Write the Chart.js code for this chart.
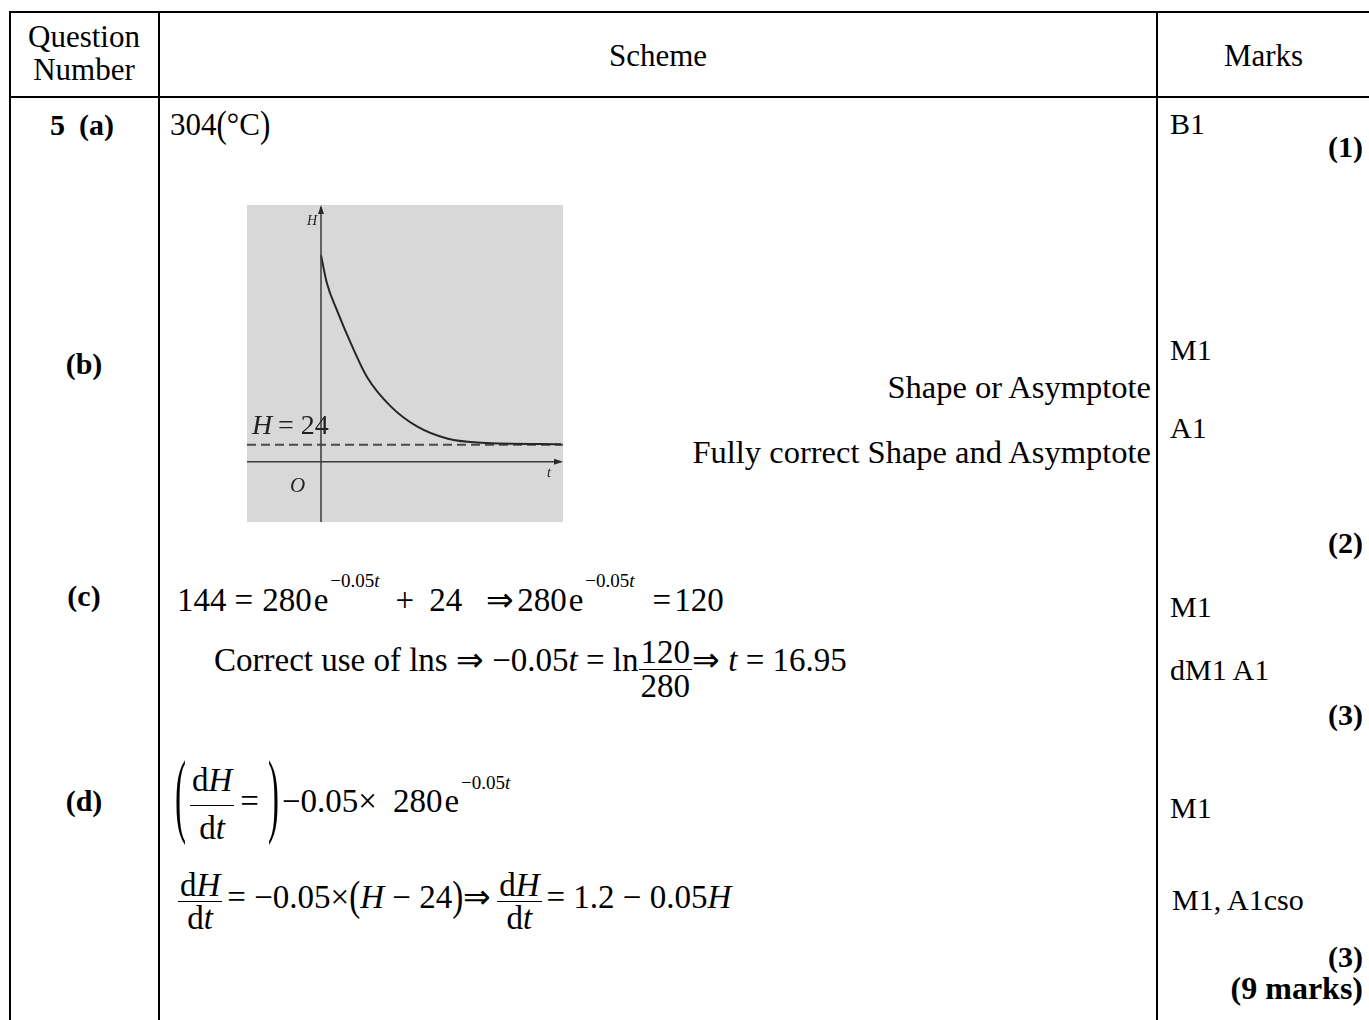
<!DOCTYPE html>
<html>
<head>
<meta charset="utf-8">
<script src="https://cdn.jsdelivr.net/npm/chart.js@4"></script>
<style>
  html, body { margin: 0; padding: 0; background: #fff; }
  #page { position: relative; width: 1369px; height: 1020px; overflow: hidden;
          font-family: "Liberation Serif", "Times New Roman", serif; font-size: 30px; color: #000; }
  .ln { position: absolute; background: #000; }
  .t { position: absolute; line-height: 1; white-space: nowrap; }
  .b { font-weight: bold; }
  .r { text-align: right; }
  .c { text-align: center; }
  .h { font-size: 31px; }
  .eq { font-size: 33px; }
  .sup { position: relative; font-size: 19px; margin-left: 2px; }
  .g { display: inline-block; }
  .pz { display: inline-block; transform-origin: 50% 0.6em; }
  .frac { display: inline-block; position: relative; vertical-align: baseline; }
  .frac .w { visibility: hidden; padding: 0 2px; }
  .frac .num, .frac .den { position: absolute; left: 0; right: 0; text-align: center; }
  .frac .num { top: var(--n); }
  .frac .den { top: var(--d); }
  .frac .bar { position: absolute; left: 0; right: 0; height: 1.5px; background: #000; top: calc(0.8375em + var(--b)); }
  #chartBox { position: absolute; left: 247px; top: 205px; width: 316px; height: 317px; background: #d8d8d8; }
</style>
</head>
<body>
<div id="page">
  <!-- lignes du tableau -->
  <div class="ln" style="left:10px; top:11px; width:1359px; height:2px;"></div>
  <div class="ln" style="left:10px; top:96px; width:1359px; height:2px;"></div>
  <div class="ln" style="left:9px; top:11px; width:2px; height:1009px;"></div>
  <div class="ln" style="left:158px; top:11px; width:2px; height:1009px;"></div>
  <div class="ln" style="left:1156px; top:11px; width:2px; height:1009px;"></div>

  <!-- en-tête -->
  <div class="t c h" style="left:10px; width:148px; top:21px;">Question</div>
  <div class="t c h" style="left:10px; width:148px; top:54px;">Number</div>
  <div class="t c h" style="left:160px; width:996px; top:40px;">Scheme</div>
  <div class="t c h" style="left:1158px; width:211px; top:40px;">Marks</div>

  <!-- (a) -->
  <div class="t b" style="left:50px; top:110px;">5<span class="g" style="width:14px"></span>(a)</div>
  <div class="t" style="left:170px; top:109px; font-size:31px;">304<span class="pz" style="transform:scaleY(1.25)">(</span>°C<span class="pz" style="transform:scaleY(1.25)">)</span></div>
  <div class="t" style="left:1170px; top:109px;">B1</div>
  <div class="t b r" style="right:6px; top:132px;">(1)</div>

  <!-- (b) -->
  <div id="chartBox"><canvas id="expChart" width="316" height="317"></canvas></div>
  <div class="t b c" style="left:10px; width:148px; top:349px;">(b)</div>
  <div class="t" style="left:1170px; top:335px;">M1</div>
  <div class="t r" style="right:218px; top:371px; font-size:32.5px;">Shape or Asymptote</div>
  <div class="t" style="left:1170px; top:413px;">A1</div>
  <div class="t r" style="right:218px; top:436px; font-size:32.5px;">Fully correct Shape and Asymptote</div>
  <div class="t b r" style="right:6px; top:528px;">(2)</div>

  <!-- (c) -->
  <div class="t b c" style="left:10px; width:148px; top:581px;">(c)</div>
  <div class="t eq" style="left:177px; top:584px;">144<span class="g" style="width:8px"></span>=<span class="g" style="width:9px"></span>280<span class="g" style="width:2px"></span>e<span class="sup" style="top:-24px">−0.05<i>t</i></span><span class="g" style="width:16px"></span>+<span class="g" style="width:15px"></span>24<span class="g" style="width:24px"></span>⇒<span class="g" style="width:3px"></span>280<span class="g" style="width:2px"></span>e<span class="sup" style="top:-24px">−0.05<i>t</i></span><span class="g" style="width:18px"></span>=<span class="g" style="width:3px"></span>120</div>
  <div class="t" style="left:1170px; top:592px;">M1</div>
  <div class="t eq" style="left:214px; top:644px;">Correct use of lns ⇒ −0.05<i>t</i> = ln<span class="frac" style="--n:-8px; --d:26px; --b:-3px;"><span class="w">120</span><span class="num">120</span><span class="bar"></span><span class="den">280</span></span>⇒ <i>t</i> = 16.95</div>
  <div class="t" style="left:1170px; top:655px;">dM1 A1</div>
  <div class="t b r" style="right:6px; top:700px;">(3)</div>

  <!-- (d) -->
  <div class="t b c" style="left:10px; width:148px; top:786px;">(d)</div>
  <div class="t eq" style="left:175px; top:785px;"><span class="pz" style="transform:scaleY(2.8)">(</span><span class="g" style="width:4px"></span><span class="frac" style="--n:-21px; --d:27px; --b:-8px;"><span class="w">d<i>H</i></span><span class="num">d<i>H</i></span><span class="bar"></span><span class="den">d<i>t</i></span></span><span class="g" style="width:6px"></span>=<span class="g" style="width:9px"></span><span class="pz" style="transform:scaleY(2.8)">)</span><span class="g" style="width:3px"></span>−0.05×<span class="g" style="width:16px"></span>280<span class="g" style="width:2px"></span>e<span class="sup" style="top:-23px">−0.05<i>t</i></span></div>
  <div class="t" style="left:1170px; top:793px;">M1</div>
  <div class="t eq" style="left:178px; top:881px;"><span class="frac" style="--n:-12px; --d:21px; --b:-8px;"><span class="w">d<i>H</i></span><span class="num">d<i>H</i></span><span class="bar"></span><span class="den">d<i>t</i></span></span><span class="g" style="width:5px"></span>= −0.05×<span class="pz" style="transform:scaleY(1.25)">(</span><i>H</i> − 24<span class="pz" style="transform:scaleY(1.25)">)</span>⇒<span class="g" style="width:6px"></span><span class="frac" style="--n:-12px; --d:21px; --b:-8px;"><span class="w">d<i>H</i></span><span class="num">d<i>H</i></span><span class="bar"></span><span class="den">d<i>t</i></span></span><span class="g" style="width:5px"></span>= 1.2 − 0.05<i>H</i></div>
  <div class="t" style="left:1172px; top:885px;">M1, A1cso</div>
  <div class="t b r" style="right:6px; top:942px;">(3)</div>
  <div class="t b r" style="right:6px; top:972px; font-size:32px;">(9 marks)</div>
</div>

<script>
// Valeurs (t, H)
const tValues = [0, 3, 8, 15, 23, 35, 48, 63, 80, 120];
const hValues = [292, 252, 214, 167, 120, 78, 50, 33, 27, 25];
const asymptoteH = 24;
const tRange = [-37, 121];
const hRange = [-85, 363];

const curvePoints = tValues.map((t, i) => ({ x: t, y: hValues[i] }));
const asymptotePoints = tRange.map(t => ({ x: t, y: asymptoteH }));

// Axes avec flèches et étiquettes
const axesPlugin = {
  id: 'axes',
  afterDatasetsDraw(chart) {
    const { ctx, scales: { x, y } } = chart;
    const x0 = x.getPixelForValue(0);
    const y0 = y.getPixelForValue(0);
    const left = x.getPixelForValue(tRange[0]);
    const right = x.getPixelForValue(tRange[1]);
    const top = y.getPixelForValue(hRange[1]);
    const bottom = y.getPixelForValue(hRange[0]);
    ctx.save();
    ctx.strokeStyle = '#3a3a3a';
    ctx.fillStyle = '#2a2a2a';
    ctx.lineWidth = 1.5;
    ctx.beginPath();
    ctx.moveTo(x0, bottom);
    ctx.lineTo(x0, top + 2);
    ctx.moveTo(left, y0);
    ctx.lineTo(right - 2, y0);
    ctx.stroke();
    // flèches
    ctx.beginPath();
    ctx.moveTo(x0, top);
    ctx.lineTo(x0 - 3, top + 9);
    ctx.lineTo(x0 + 3, top + 9);
    ctx.closePath();
    ctx.moveTo(right, y0);
    ctx.lineTo(right - 9, y0 - 3);
    ctx.lineTo(right - 9, y0 + 3);
    ctx.closePath();
    ctx.fill();
    // étiquettes
    ctx.fillStyle = '#222';
    ctx.font = 'italic 14px "Liberation Serif"';
    ctx.textAlign = 'right';
    ctx.fillText('H', x0 - 4, top + 20);
    ctx.textAlign = 'left';
    ctx.fillText('t', right - 16, y0 + 15);
    ctx.font = 'italic 21px "Liberation Serif"';
    ctx.fillText('O', x0 - 31, y0 + 30);
    const yA = y.getPixelForValue(asymptoteH) - 11;
    ctx.font = 'italic 28px "Liberation Serif"';
    ctx.fillText('H', left + 5, yA);
    ctx.font = '28px "Liberation Serif"';
    ctx.fillText('= 24', left + 31, yA);
    ctx.restore();
  }
};

const ctx = document.getElementById('expChart').getContext('2d');
const expChart = new Chart(ctx, {
  type: 'scatter',
  data: {
    datasets: [{
      data: curvePoints,
      showLine: true,
      borderColor: '#262626',
      borderWidth: 2,
      pointRadius: 0,
      cubicInterpolationMode: 'monotone'
    }, {
      data: asymptotePoints,
      showLine: true,
      borderColor: '#4a4a4a',
      borderWidth: 2,
      borderDash: [9, 5],
      pointRadius: 0
    }]
  },
  options: {
    responsive: false,
    animation: false,
    layout: { padding: 0 },
    scales: {
      x: { display: false, min: tRange[0], max: tRange[1] },
      y: { display: false, min: hRange[0], max: hRange[1] }
    },
    plugins: {
      legend: { display: false },
      tooltip: { enabled: false }
    }
  },
  plugins: [axesPlugin]
});
</script>
</body>
</html>
